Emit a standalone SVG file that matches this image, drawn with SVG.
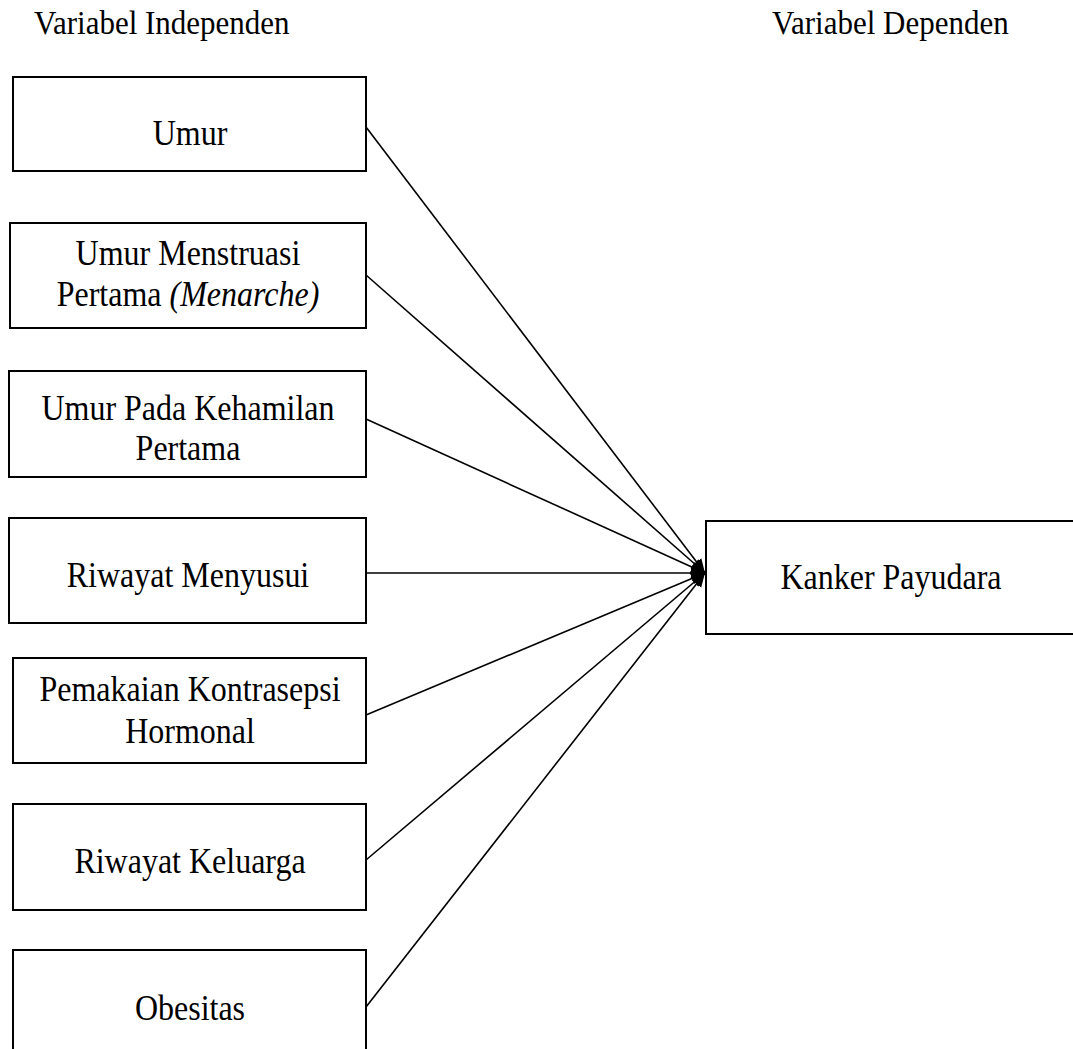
<svg xmlns="http://www.w3.org/2000/svg" width="1073" height="1049" viewBox="0 0 1073 1049">
<style>
.box{fill:#fff;stroke:#000;stroke-width:2}
.t{font-family:"Liberation Serif","Times New Roman",serif;font-size:32px;fill:#000;text-anchor:middle}
.h{font-family:"Liberation Serif","Times New Roman",serif;font-size:31px;fill:#000;text-anchor:start}
.c{stroke:#000;stroke-width:1.6;fill:none;marker-end:url(#ah)}
</style>
<defs>
<marker id="ah" markerUnits="userSpaceOnUse" markerWidth="16" markerHeight="16" refX="14" refY="8" orient="auto">
<path d="M0,2 L14,8 L0,14 Z" fill="#000"/>
</marker>
</defs>
<rect width="1073" height="1049" fill="#fff"/>
<text class="h" transform="translate(34,34) scale(1,1.1)">Variabel Independen</text>
<text class="h" transform="translate(772,34) scale(1,1.1)">Variabel Dependen</text>
<g id="connectors">
<line class="c" x1="366" y1="127" x2="705" y2="573"/>
<line class="c" x1="366" y1="275" x2="705" y2="573"/>
<line class="c" x1="366" y1="419" x2="705" y2="573"/>
<line class="c" x1="366" y1="573" x2="705" y2="573"/>
<line class="c" x1="366" y1="715" x2="705" y2="573"/>
<line class="c" x1="366" y1="860" x2="705" y2="573"/>
<line class="c" x1="366" y1="1007" x2="705" y2="573"/>
</g>
<g id="n1"><rect class="box" x="13" y="77" width="353" height="94"/><text class="t" transform="translate(190,145) scale(1,1.15)">Umur</text></g>
<g id="n2"><rect class="box" x="10" y="223" width="356" height="105"/><text class="t" transform="translate(188,265) scale(1,1.15)">Umur Menstruasi</text><text class="t" transform="translate(188,306) scale(1,1.15)">Pertama <tspan font-style="italic">(Menarche)</tspan></text></g>
<g id="n3"><rect class="box" x="9" y="371" width="357" height="106"/><text class="t" transform="translate(188,420) scale(1,1.15)">Umur Pada Kehamilan</text><text class="t" transform="translate(188,460) scale(1,1.15)">Pertama</text></g>
<g id="n4"><rect class="box" x="9" y="518" width="357" height="105"/><text class="t" transform="translate(188,587) scale(1,1.15)">Riwayat Menyusui</text></g>
<g id="n5"><rect class="box" x="13" y="658" width="353" height="105"/><text class="t" transform="translate(190,701) scale(1,1.15)">Pemakaian Kontrasepsi</text><text class="t" transform="translate(190,743) scale(1,1.15)">Hormonal</text></g>
<g id="n6"><rect class="box" x="13" y="804" width="353" height="106"/><text class="t" transform="translate(190,873) scale(1,1.15)">Riwayat Keluarga</text></g>
<g id="n7"><rect class="box" x="13" y="950" width="353" height="120"/><text class="t" transform="translate(190,1020) scale(1,1.15)">Obesitas</text></g>
<g id="n8"><rect class="box" x="706" y="521" width="380" height="113"/><text class="t" transform="translate(891,589) scale(1,1.15)">Kanker Payudara</text></g>
</svg>
